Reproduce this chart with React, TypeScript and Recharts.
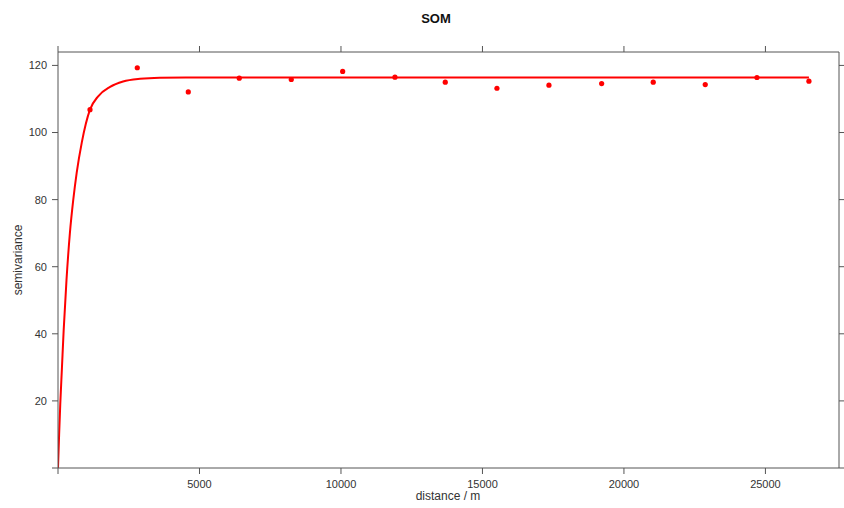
import React from 'react';
import { ComposedChart, Line, Scatter, XAxis, YAxis } from 'recharts';

// empirical semivariogram (lag distance in m, semivariance)
const lagDistance = [1131, 2802, 4604, 6406, 8244, 10060, 11908, 13686, 15512, 17350, 19212, 21035, 22873, 24700, 26537];
const gamma = [106.8, 119.3, 112.1, 116.2, 115.8, 118.2, 116.5, 115.0, 113.2, 114.1, 114.6, 115.0, 114.3, 116.4, 115.3];

// fitted model curve
const modelDistance = [0, 40, 80, 140, 200, 300, 420, 540, 660, 840, 1130, 1420, 1840, 2300, 2900, 3600, 5000, 26537];
const modelGamma = [0, 10, 19, 30, 41, 56, 70, 80, 88, 97, 106.8, 110.8, 113.6, 115.2, 116.0, 116.3, 116.4, 116.4];

const xTicks = [0, 5000, 10000, 15000, 20000, 25000];
const yTicks = [0, 20, 40, 60, 80, 100, 120];

const points = lagDistance.map((d, i) => ({ dist: d, gamma: gamma[i] }));
const model = modelDistance.map((d, i) => ({ dist: d, model: modelGamma[i] }));

const AXIS = '#555';
const TXT = '#333';
const FONT = '"Liberation Sans", Arial, sans-serif';

const Dot = (props: any) => <circle cx={props.cx} cy={props.cy} r={2.6} fill="#ff0000" />;

const hideZero = (v: number) => (v === 0 ? '' : String(v));

export default function App() {
  return (
    <div style={{ position: 'absolute', left: 0, top: 0, width: 844, height: 508, background: '#fff', fontFamily: FONT }}>
      <ComposedChart width={844} height={508} margin={{ top: 46, right: 0, bottom: 0, left: 0 }}>
        <XAxis
          xAxisId="b"
          type="number"
          dataKey="dist"
          domain={[0, 27600]}
          ticks={xTicks}
          tickFormatter={hideZero}
          height={40}
          allowDataOverflow
          stroke={AXIS}
          tickSize={6}
          tickMargin={6}
          tick={{ fill: TXT, fontSize: 11, fontFamily: FONT }}
        />
        <XAxis
          xAxisId="t"
          orientation="top"
          type="number"
          dataKey="dist"
          domain={[0, 27600]}
          ticks={xTicks}
          tickFormatter={() => ''}
          height={6}
          allowDataOverflow
          stroke={AXIS}
          tickSize={6}
        />
        <YAxis
          yAxisId="l"
          type="number"
          domain={[0, 124]}
          ticks={yTicks}
          tickFormatter={hideZero}
          width={58}
          allowDataOverflow
          stroke={AXIS}
          tickSize={6}
          tickMargin={5}
          tick={{ fill: TXT, fontSize: 11, fontFamily: FONT }}
        />
        <YAxis
          yAxisId="r"
          orientation="right"
          type="number"
          domain={[0, 124]}
          ticks={yTicks}
          tickFormatter={() => ''}
          width={5}
          allowDataOverflow
          stroke={AXIS}
          tickSize={6}
        />
        <Line
          xAxisId="b"
          yAxisId="l"
          data={model}
          dataKey="model"
          type="monotone"
          stroke="#ff0000"
          strokeWidth={2}
          dot={false}
          isAnimationActive={false}
        />
        <Scatter
          xAxisId="t"
          yAxisId="r"
          data={[]}
          dataKey="gamma"
          isAnimationActive={false}
        />
        <Scatter
          xAxisId="b"
          yAxisId="l"
          data={points}
          dataKey="gamma"
          shape={Dot}
          isAnimationActive={false}
        />
        <text x={436} y={23} textAnchor="middle" fontSize={13} fontWeight="bold" fill="#111" fontFamily={FONT}>
          SOM
        </text>
        <text x={448} y={500} textAnchor="middle" fontSize={12} fill={TXT} fontFamily={FONT}>
          distance / m
        </text>
        <text x={22} y={260} textAnchor="middle" fontSize={12} fill={TXT} fontFamily={FONT} transform="rotate(-90 22 260)">
          semivariance
        </text>
      </ComposedChart>
    </div>
  );
}
